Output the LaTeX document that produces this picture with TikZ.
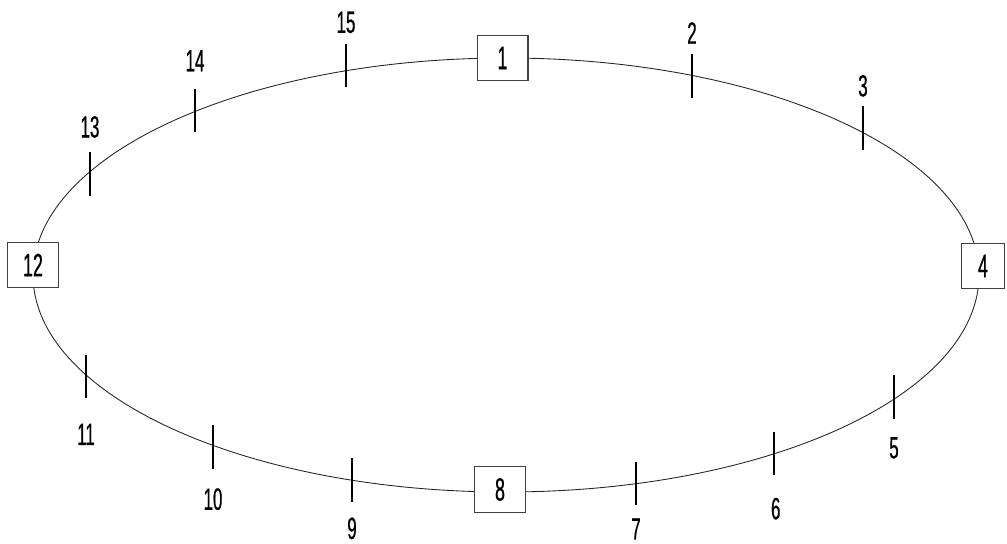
\documentclass[tikz,border=0pt]{standalone}
\usepackage{fontspec}
\setmainfont{Liberation Sans}[FakeStretch=0.55, FakeBold=0.6]
\usetikzlibrary{positioning}
\tikzset{
    station/.style={
        rectangle, draw=black!75, fill=white, line width=0.6pt,
        minimum width=29pt, minimum height=26pt, inner sep=0pt,
        font=\fontsize{18.5}{18.5}\selectfont
    },
    tick/.style={rectangle, minimum width=0pt, minimum height=25pt, inner sep=0pt, outer sep=0pt},
    tickline/.style={draw=black, line width=1.2pt},
    ticklabel/.style={inner sep=0pt, font=\fontsize{17.5}{17.5}\selectfont},
    ring/.style={draw=black!85, line width=0.5pt}
}
\begin{document}
\begin{tikzpicture}[x=0.02cm, y=-0.02cm]
    \useasboundingbox (0,0) rectangle (1007,544);
    \draw [ring] (506,275) ellipse [x radius=473, y radius=217];
    % stations on the ring
    \node (s1) [station] at (502.5,58) {1};
    \node (s4) [station, minimum width=24pt] at (983,266) {4};
    \node (s8) [station] at (500,489.5) {8};
    \node (s12) [station] at (33,265) {12};
    % ticks
    \node (t2) [tick] at (692,76) {};
    \node (t3) [tick] at (863,128) {};
    \node (t5) [tick] at (894,397) {};
    \node (t6) [tick] at (774,453.5) {};
    \node (t7) [tick] at (636,483.5) {};
    \node (t9) [tick] at (352,480) {};
    \node (t10) [tick] at (213,447) {};
    \node (t11) [tick] at (86,376.5) {};
    \node (t13) [tick] at (90,174) {};
    \node (t14) [tick] at (195,110.5) {};
    \node (t15) [tick] at (346,65.5) {};
    \foreach \t in {2,3,5,6,7,9,10,11,13,14,15}
        \draw [tickline] (t\t.north) -- (t\t.south);
    % tick labels
    \node (l2) [ticklabel, above=5.7pt of t2] {2};
    \node (l3) [ticklabel, above=5.1pt of t3] {3};
    \node (l15) [ticklabel, above=5.7pt of t15] {15};
    \node (l14) [ticklabel, above=9.6pt of t14] {14};
    \node (l13) [ticklabel, above=7.9pt of t13] {13};
    \node (l11) [ticklabel, below=14.2pt of t11] {11};
    \node (l10) [ticklabel, below=10.8pt of t10] {10};
    \node (l9) [ticklabel, below=8.6pt of t9] {9};
    \node (l7) [ticklabel, below=7.2pt of t7] {7};
    \node (l6) [ticklabel, below=12.5pt of t6, xshift=1pt] {6};
    \node (l5) [ticklabel, below=10.2pt of t5] {5};
\end{tikzpicture}
\end{document}
